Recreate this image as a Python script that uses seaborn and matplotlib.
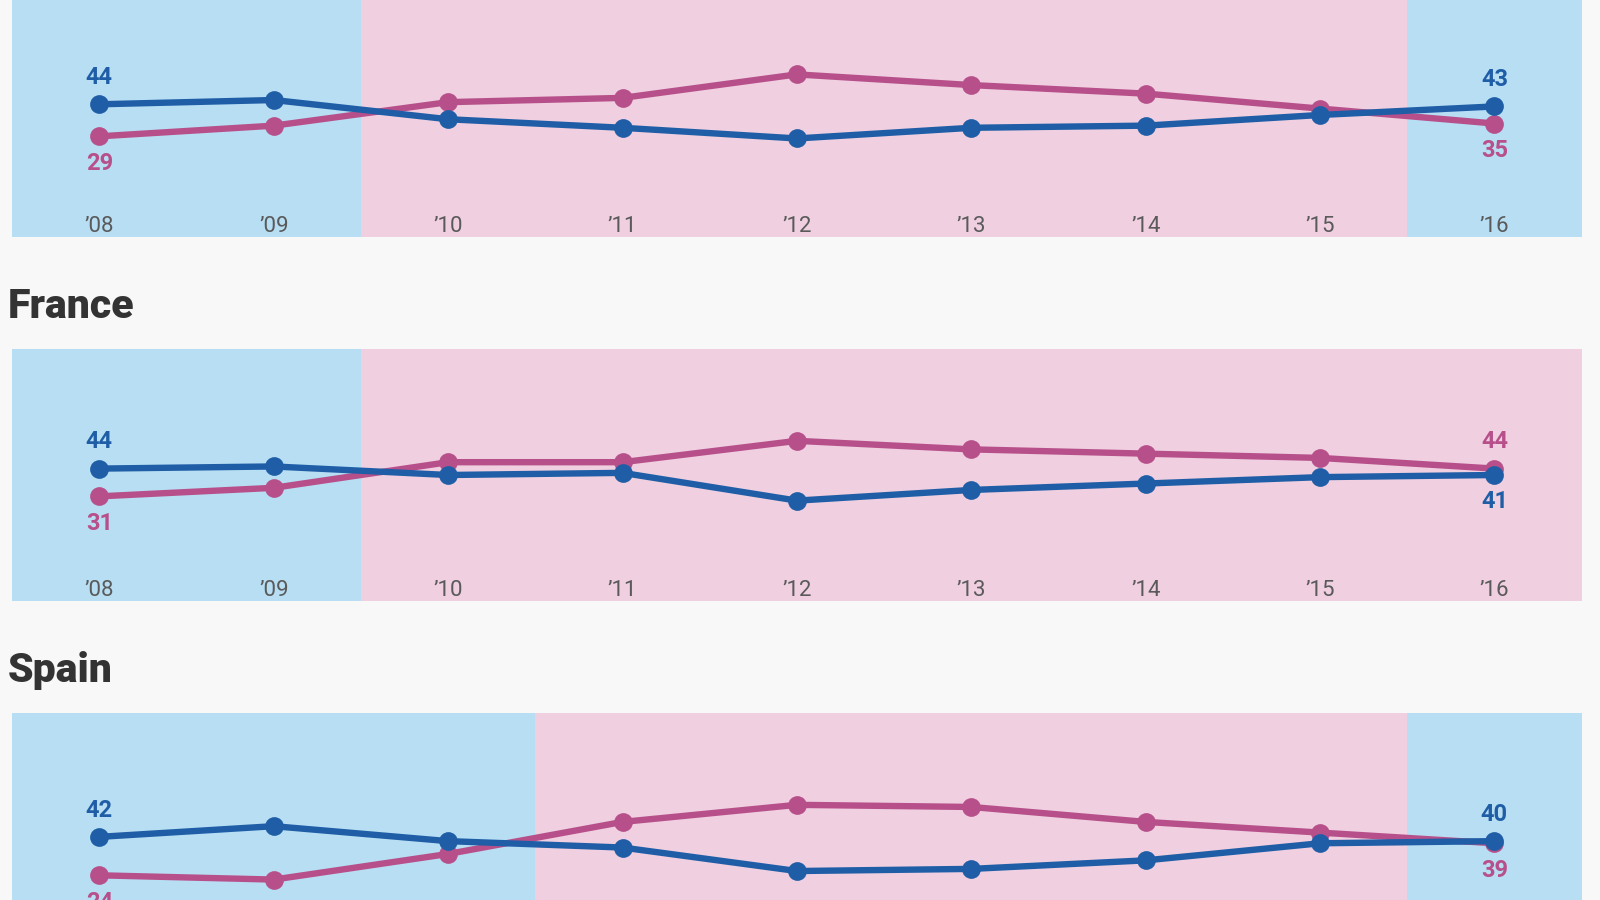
import matplotlib
matplotlib.use("Agg")
import matplotlib.pyplot as plt
import seaborn as sns
import pandas as pd

sns.set_theme(style="white")
plt.rcParams['font.family'] = ['Roboto', 'DejaVu Sans']

years = [2008, 2009, 2010, 2011, 2012, 2013, 2014, 2015, 2016]
year_labels = ["\u201908", "\u201909", "\u201910", "\u201911", "\u201912",
               "\u201913", "\u201914", "\u201915", "\u201916"]

panel_titles = ["", "France", "Spain"]

top_blue = [44, 46, 37, 33, 28, 33, 34, 39, 43]
top_pink = [29, 34, 45, 47, 58, 53, 49, 42, 35]

france_blue = [44, 45, 41, 42, 29, 34, 37, 40, 41]
france_pink = [31, 35, 47, 47, 57, 53, 51, 49, 44]

spain_blue = [42, 47, 40, 37, 26, 27, 31, 39, 40]
spain_pink = [24, 22, 34, 49, 57, 56, 49, 44, 39]

# shaded periods: (start, end, colour key)
top_periods = [(2007.5, 2009.5, "b"), (2009.5, 2015.5, "p"), (2015.5, 2016.5, "b")]
france_periods = [(2007.5, 2009.5, "b"), (2009.5, 2016.5, "p")]
spain_periods = [(2007.5, 2010.5, "b"), (2010.5, 2015.5, "p"), (2015.5, 2016.5, "b")]

BLUE = "#1f5ea6"
PINK = "#b7508a"
BG_BLUE = "#b7def3"
BG_PINK = "#efcfe0"
FIG_BG = "#f8f8f8"

panels = [
    (top_blue, top_pink, top_periods),
    (france_blue, france_pink, france_periods),
    (spain_blue, spain_pink, spain_periods),
]

fig = plt.figure(figsize=(16, 9), dpi=100, facecolor=FIG_BG)

W, H = 1600.0, 900.0
left_px, right_px = 12.2, 1581.6
panel_h = 252.0
panel_bottoms_px = [236.7, 601.0, 965.0]
title_y_px = [None, 306.0, 670.0]

for i, (blue, pink, periods) in enumerate(panels):
    b = panel_bottoms_px[i]
    ax = fig.add_axes([left_px / W, 1 - b / H, (right_px - left_px) / W, panel_h / H])
    ax.set_xlim(2007.5, 2016.5)
    ax.set_ylim(-18, 100)
    for (s, e, c) in periods:
        ax.axvspan(s, e, color=BG_BLUE if c == "b" else BG_PINK, lw=0, zorder=0)

    df = pd.DataFrame({"year": years * 2,
                       "value": blue + pink,
                       "series": ["blue"] * len(years) + ["pink"] * len(years)})
    sns.lineplot(data=df, x="year", y="value", hue="series",
                 palette={"blue": BLUE, "pink": PINK}, hue_order=["pink", "blue"],
                 marker="o", markersize=13.5, markeredgewidth=0, linewidth=4.6,
                 legend=False, ax=ax, zorder=3)

    # end labels
    for idx in (0, len(years) - 1):
        bv, pv = blue[idx], pink[idx]
        if bv >= pv:
            pairs = [(bv, BLUE, "bottom", 1), (pv, PINK, "top", -1)]
        else:
            pairs = [(pv, PINK, "bottom", 1), (bv, BLUE, "top", -1)]
        for v, col, va, sgn in pairs:
            off = 11 if sgn > 0 else -11
            ax.annotate(str(v), (years[idx], v), xytext=(0, off),
                        textcoords="offset points", ha="center", va=va,
                        fontsize=17, color=col, fontweight="semibold", zorder=4)

    if b - panel_h * 0.06 < H:
        for x, lab in zip(years, year_labels):
            ax.text(x, -13, lab, ha="center", va="center", fontsize=16,
                    color="#5a5a5a", zorder=4)

    ax.set_xticks([])
    ax.set_yticks([])
    ax.set_xlabel("")
    ax.set_ylabel("")
    for sp in ax.spines.values():
        sp.set_visible(False)

    if panel_titles[i]:
        fig.text(8 / W, 1 - title_y_px[i] / H, panel_titles[i], ha="left", va="center",
                 fontsize=29.5, fontweight="heavy", color="#333333")

fig.savefig("out.png", dpi=100, facecolor=FIG_BG)
